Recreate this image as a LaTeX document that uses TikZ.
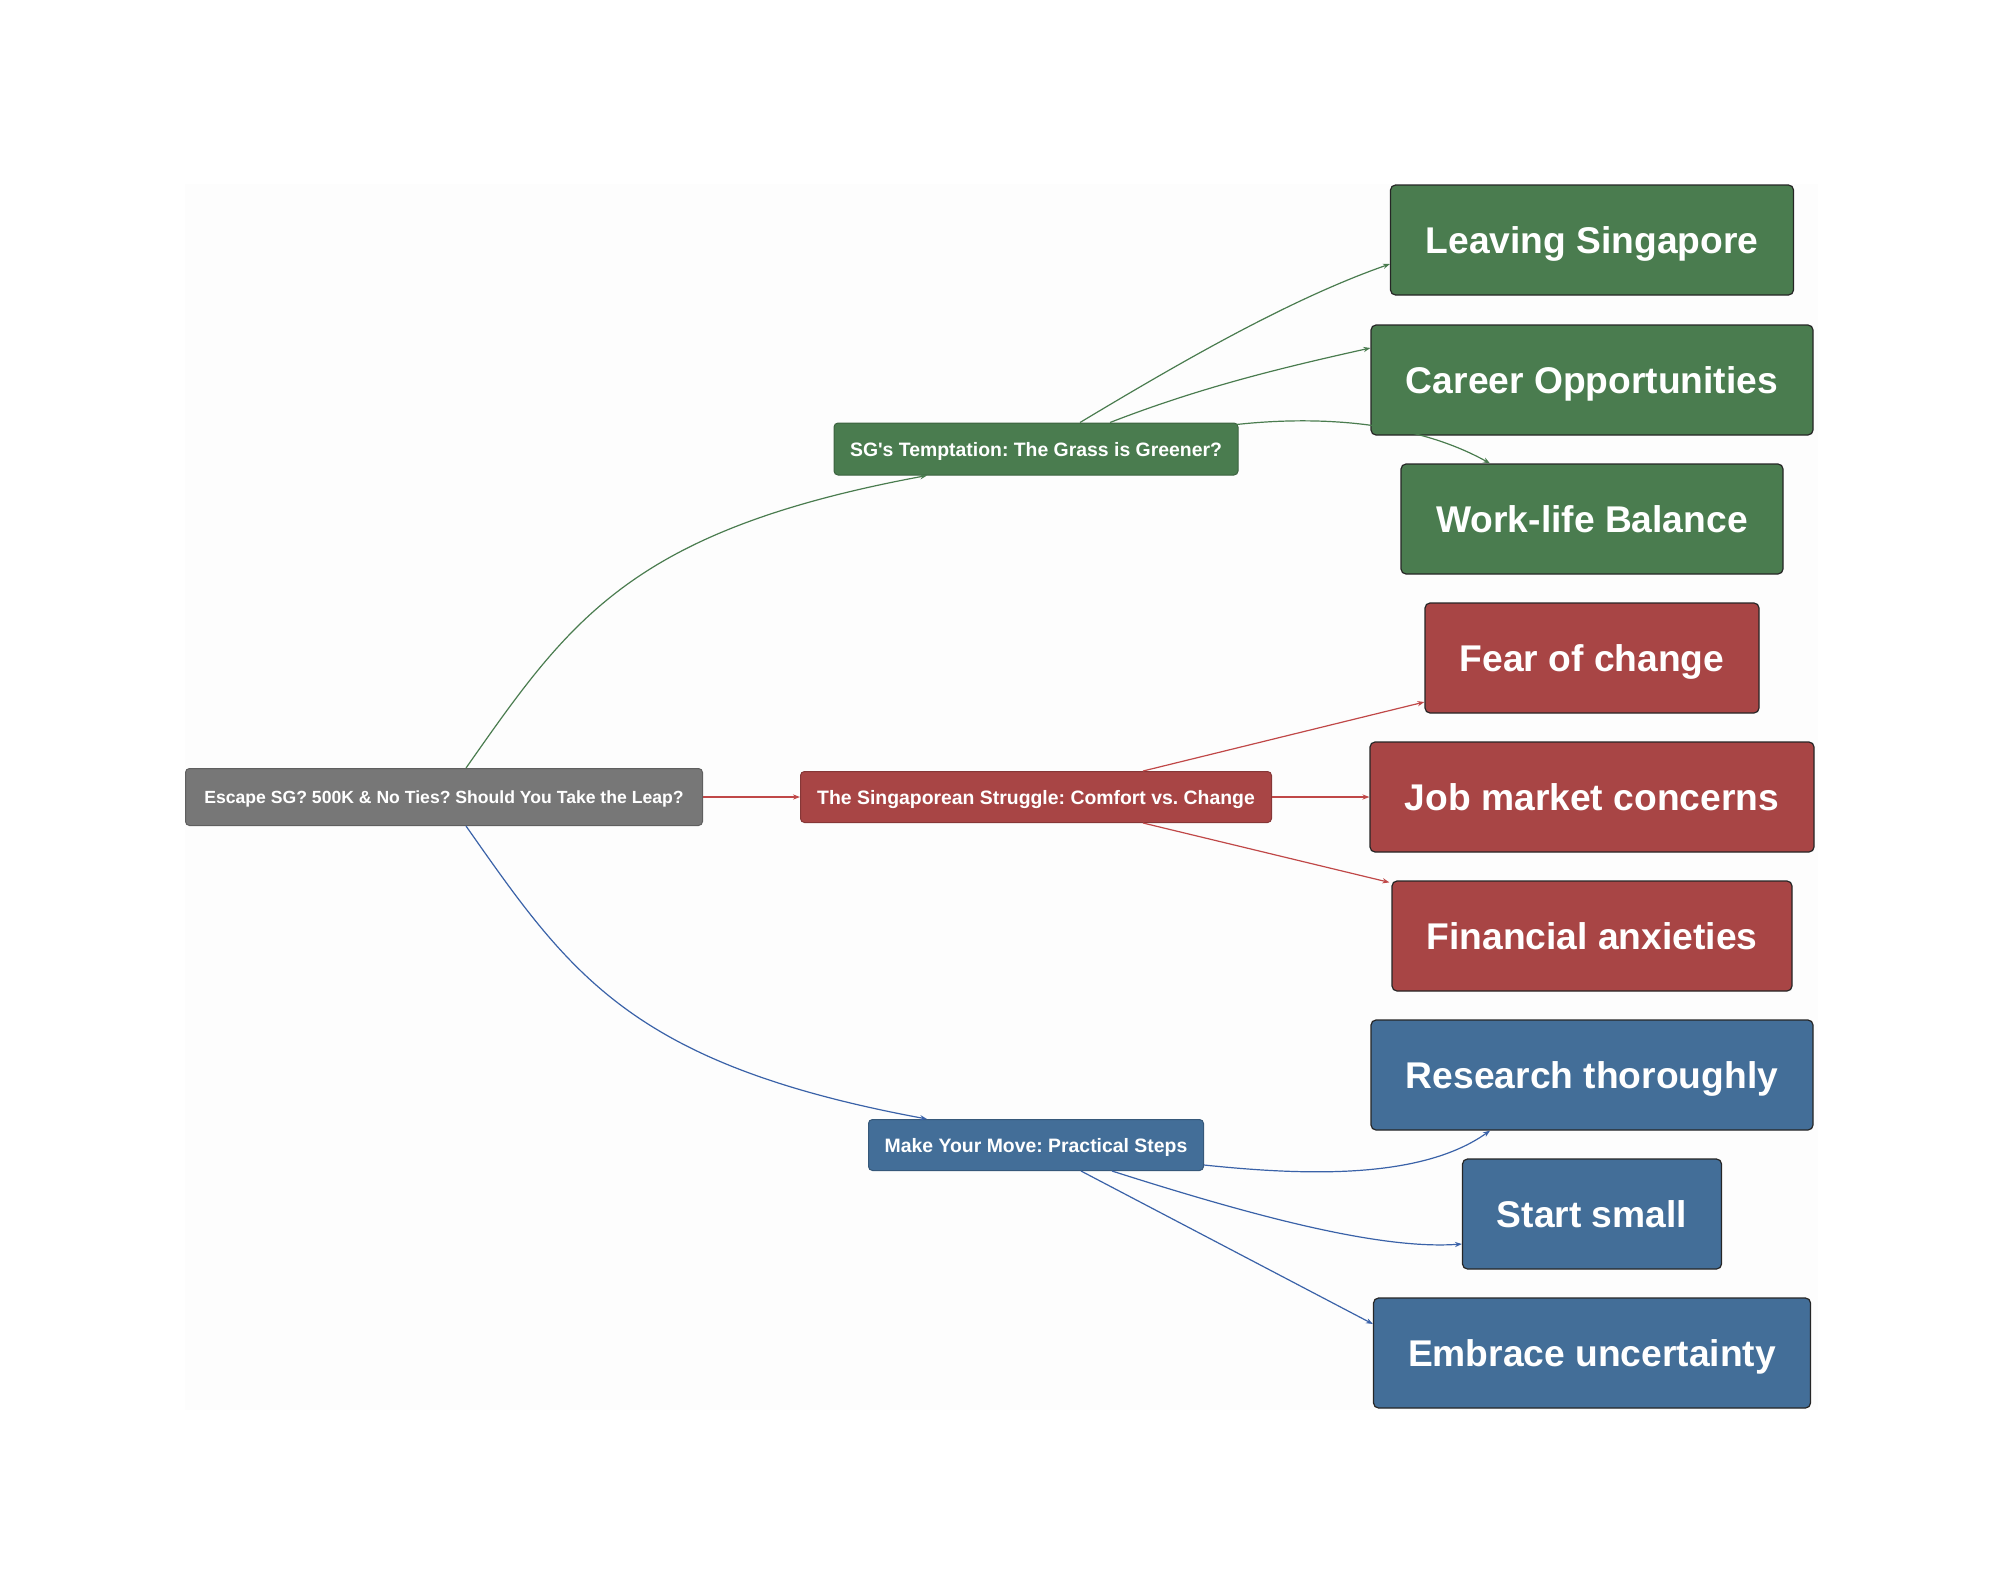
\documentclass[tikz,border=0pt]{standalone}
\usepackage{fontspec}
\setmainfont{Liberation Sans}
\usetikzlibrary{arrows.meta}
\definecolor{gfill}{HTML}{4A7C4F}
\definecolor{rfill}{HTML}{A84545}
\definecolor{bfill}{HTML}{436E98}
\definecolor{kfill}{HTML}{777777}
\definecolor{gline}{HTML}{4A7C4F}
\definecolor{rline}{HTML}{C04848}
\definecolor{bline}{HTML}{3A62A8}
\definecolor{bgcol}{HTML}{FDFDFD}
\tikzset{
  midbox/.style={rectangle, rounded corners=2pt, inner sep=0pt, text=white,
    font=\fontsize{9.7}{11}\selectfont\bfseries, line width=0.5pt,
    text height=7pt, text depth=0pt},
  bigbox/.style={rectangle, rounded corners=2.5pt, inner sep=0pt, text=white,
    minimum height=55pt, font=\fontsize{18.6}{22}\selectfont\bfseries,
    draw=black!85, line width=0.6pt, text height=13.4pt, text depth=0pt},
  conn/.style={line width=0.6pt, -{Stealth[length=3.5pt,width=2.6pt]}},
}
\begin{document}
\frenchspacing
\begin{tikzpicture}[x=0.5pt,y=-0.5pt]
\useasboundingbox (0,0) rectangle (2000,1595);
\fill[white] (0,0) rectangle (2000,1595);
\fill[bgcol] (185,184) rectangle (1818,1410);

\node[midbox, fill=kfill, draw=kfill!80!black, minimum width=258.5pt, minimum height=28.5pt, font=\fontsize{8.8}{11}\selectfont\bfseries, text height=6.4pt] (root) at (444,797) {Escape SG? 500K \& No Ties? Should You Take the Leap?};
\node[midbox, fill=gfill, draw=gfill!80!black, minimum width=202pt, minimum height=26pt] (sg) at (1036,449) {SG\textquotesingle s Temptation: The Grass is Greener?};
\node[midbox, fill=rfill, draw=rfill!80!black, minimum width=235.5pt, minimum height=25.5pt] (struggle) at (1036,797) {The Singaporean Struggle: Comfort vs. Change};
\node[midbox, fill=bfill, draw=bfill!80!black, minimum width=167.5pt, minimum height=25.5pt] (make) at (1036,1145) {Make Your Move: Practical Steps};

\node[bigbox, fill=gfill, minimum width=201.5pt] (leave) at (1592,240) {Leaving Singapore};
\node[bigbox, fill=gfill, minimum width=221pt] (career) at (1592,380) {Career Opportunities};
\node[bigbox, fill=gfill, minimum width=191pt] (work) at (1592,519) {Work-life Balance};
\node[bigbox, fill=rfill, minimum width=167pt] (fear) at (1592,658) {Fear of change};
\node[bigbox, fill=rfill, minimum width=222pt] (job) at (1592,797) {Job market concerns};
\node[bigbox, fill=rfill, minimum width=200pt] (fin) at (1592,936) {Financial anxieties};
\node[bigbox, fill=bfill, minimum width=221pt] (research) at (1592,1075) {Research thoroughly};
\node[bigbox, fill=bfill, minimum width=129.5pt] (start) at (1592,1214) {Start small};
\node[bigbox, fill=bfill, minimum width=218.5pt] (embrace) at (1592,1353) {Embrace uncertainty};

% root to middle
\draw[conn, gline] ([xshift=11pt]root.north) .. controls +(104,-148) and +(-297,55) .. ([xshift=-54.5pt]sg.south);
\draw[conn, rline] (root.east) -- (struggle.west);
\draw[conn, bline] ([xshift=11pt]root.south) .. controls +(104,148) and +(-297,-55) .. ([xshift=-54.5pt]make.north);

% green
\draw[conn, gline] ([xshift=22pt]sg.north) .. controls +(100,-60) and +(-100,35) .. ([yshift=-12pt]leave.west);
\draw[conn, gline] ([xshift=37pt]sg.north) .. controls +(90,-35) and +(-90,20) .. ([yshift=16pt]career.west);
\draw[conn, gline] ([xshift=-1pt,yshift=-1pt]sg.north east) .. controls +(92,-10) and +(-70,-39) .. ([xshift=-51pt]work.north);

% red
\draw[conn, rline] ([xshift=53.5pt]struggle.north) -- ([yshift=-22pt]fear.west);
\draw[conn, rline] (struggle.east) -- (job.west);
\draw[conn, rline] ([xshift=53.5pt]struggle.south) -- ([xshift=-1pt,yshift=-1pt]fin.north west);

% blue
\draw[conn, bline] ([yshift=-10pt]make.east) .. controls +(96,10) and +(-70,50) .. ([xshift=-51pt]research.south);
\draw[conn, bline] ([xshift=38pt]make.south) .. controls +(138,44) and +(-83,6) .. ([yshift=-15pt]start.west);
\draw[conn, bline] ([xshift=22.5pt]make.south) -- ([yshift=14.5pt]embrace.west);
\end{tikzpicture}
\end{document}
